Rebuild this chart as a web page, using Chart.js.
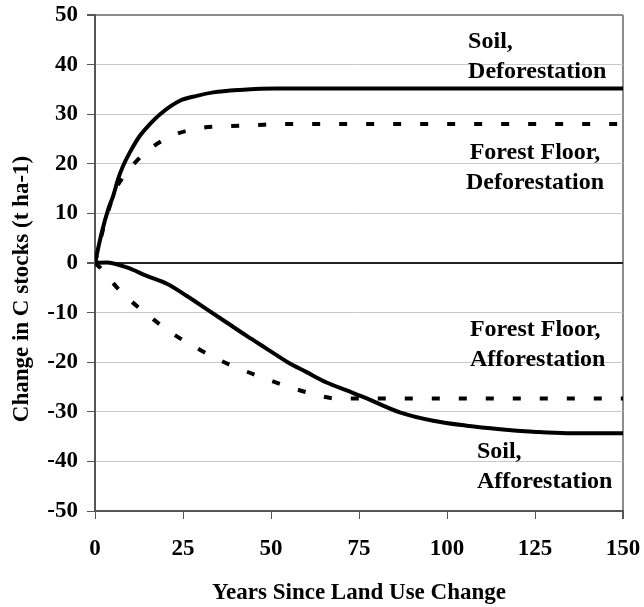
<!DOCTYPE html>
<html>
<head>
<meta charset="utf-8">
<script src="https://cdn.jsdelivr.net/npm/chart.js@4.4.1/dist/chart.umd.min.js"></script>
<style>
  html, body { margin: 0; padding: 0; background: #fff; }
  #wrap { width: 644px; height: 607px; position: relative; }
</style>
</head>
<body>
<div id="wrap"><canvas id="c" width="644" height="607"></canvas></div>
<script>
// ---- Data ----
const xTickValues = [0, 25, 50, 75, 100, 125, 150];
const yTickValues = [-50, -40, -30, -20, -10, 0, 10, 20, 30, 40, 50];

const soilDefYears = [0, 1.9, 3.8, 5.2, 6.6, 8, 9.9, 12.8, 15.6, 18.5, 24.1, 28.9, 33.6, 41.2, 51.6, 75, 100, 125, 150];
const soilDefVals  = [0, 6.1, 10.9, 13.6, 17, 19.6, 22.3, 25.7, 28, 30, 32.7, 33.7, 34.4, 34.9, 35.2, 35.2, 35.2, 35.2, 35.2];

const ffDefYears = [0, 2, 4, 6, 8, 14.2, 22.1, 30, 37.9, 45.5, 53.4, 75, 100, 125, 150];
const ffDefVals  = [0, 6, 11, 15, 17.3, 22.2, 25.7, 27.2, 27.6, 27.8, 28, 28, 28, 28, 28];

const ffAffYears = [0, 1.4, 7.1, 14.7, 22.2, 30.3, 37.9, 45.7, 53.5, 60.9, 68.6, 75, 100, 125, 150];
const ffAffVals  = [0, -0.9, -5.6, -10.3, -14.3, -17.7, -20.4, -22.6, -24.6, -26.2, -27.3, -27.3, -27.3, -27.3, -27.3];

const soilAffYears = [0, 3.3, 9, 14.7, 20.4, 26, 31.7, 37.4, 43.1, 48.8, 54.5, 60.1, 65.8, 71.5, 77.2, 86.6, 96.1, 105.6, 115.1, 124.5, 134, 150];
const soilAffVals  = [0, 0.1, -0.9, -2.6, -4.2, -6.6, -9.3, -12, -14.7, -17.3, -19.9, -22, -24.1, -25.7, -27.3, -30.1, -31.8, -32.8, -33.5, -34, -34.3, -34.3];

const xTitle = 'Years Since Land Use Change';
const yTitle = 'Change in C stocks (t ha-1)';

// annotation labels: [lines, x value, y value of first line, align]
const annotations = [
  { lines: ['Soil,', 'Deforestation'], x: 106, y: 44.5, align: 'left' },
  { lines: ['Forest Floor,', 'Deforestation'], x: 125, y: 22.3, align: 'center' },
  { lines: ['Forest Floor,', 'Afforestation'], x: 106.5, y: -13.5, align: 'left' },
  { lines: ['Soil,', 'Afforestation'], x: 108.5, y: -38, align: 'left' }
];

function pts(xs, ys) { return xs.map((x, i) => ({ x: x, y: ys[i] })); }

const FONT = '"Liberation Serif", "Times New Roman", serif';

const textPlugin = {
  id: 'texts',
  afterDraw(chart) {
    const ctx = chart.ctx;
    const xs = chart.scales.x, ys = chart.scales.y;
    ctx.save();
    ctx.fillStyle = '#000';
    ctx.font = 'bold 24px ' + FONT;
    ctx.textBaseline = 'middle';
    annotations.forEach(a => {
      ctx.textAlign = a.align;
      const px = xs.getPixelForValue(a.x);
      const py = ys.getPixelForValue(a.y);
      a.lines.forEach((ln, i) => ctx.fillText(ln, px, py + i * 30));
    });
    // y axis title
    ctx.font = 'bold 23px ' + FONT;
    ctx.translate(22, 289);
    ctx.rotate(-Math.PI / 2);
    ctx.textAlign = 'center';
    ctx.fillText(yTitle, 0, 0);
    ctx.restore();
  }
};

const lineBase = { borderColor: '#000', borderWidth: 4, cubicInterpolationMode: 'monotone', pointRadius: 0, fill: false };

new Chart(document.getElementById('c'), {
  type: 'line',
  data: {
    datasets: [
      Object.assign({ label: 'Soil, Deforestation', data: pts(soilDefYears, soilDefVals) }, lineBase),
      Object.assign({ label: 'Forest Floor, Deforestation', data: pts(ffDefYears, ffDefVals), borderDash: [8, 19], borderCapStyle: 'butt' }, lineBase),
      Object.assign({ label: 'Forest Floor, Afforestation', data: pts(ffAffYears, ffAffVals), borderDash: [8, 19], borderCapStyle: 'butt' }, lineBase),
      Object.assign({ label: 'Soil, Afforestation', data: pts(soilAffYears, soilAffVals) }, lineBase)
    ]
  },
  options: {
    responsive: false,
    animation: false,
    devicePixelRatio: 1,
    layout: { padding: { top: 15, right: 21, bottom: 0, left: 0 } },
    plugins: { legend: { display: false }, tooltip: { enabled: false } },
    scales: {
      x: {
        type: 'linear',
        min: 0, max: 150,
        afterFit(scale) { scale.height = 96; scale.paddingRight = 0; scale.paddingLeft = 0; },
        afterBuildTicks(scale) { scale.ticks = xTickValues.map(v => ({ value: v })); },
        ticks: { color: '#000', font: { family: FONT, size: 23, weight: 'bold' }, padding: 16, maxRotation: 0, autoSkip: false },
        grid: {
          color: ctx => (ctx.tick && ctx.tick.value === 150) ? '#8c8c8c' : 'rgba(0,0,0,0)',
          lineWidth: ctx => (ctx.tick && ctx.tick.value === 150) ? 2 : 1,
          tickColor: '#555', tickLength: 8, drawTicks: true
        },
        border: { display: true, color: '#555', width: 2 },
        title: { display: true, text: xTitle, color: '#000', font: { family: FONT, size: 23, weight: 'bold' }, padding: { top: 0, bottom: 0 } }
      },
      y: {
        type: 'linear',
        min: -50, max: 50,
        afterFit(scale) { scale.width = 95; scale.paddingTop = 0; scale.paddingBottom = 0; },
        afterBuildTicks(scale) { scale.ticks = yTickValues.map(v => ({ value: v })); },
        ticks: { color: '#000', font: { family: FONT, size: 23, weight: 'bold' }, padding: 9, autoSkip: false },
        grid: {
          color: ctx => {
            const v = ctx.tick && ctx.tick.value;
            if (v === 0) return '#222';
            if (v === 50) return '#8c8c8c';
            return '#c8c8c8';
          },
          lineWidth: ctx => {
            const v = ctx.tick && ctx.tick.value;
            return (v === 0 || v === 50) ? 2 : 1;
          },
          tickColor: '#555', tickLength: 8, drawTicks: true
        },
        border: { display: true, color: '#555', width: 2 }
      }
    }
  },
  plugins: [textPlugin]
});
</script>
</body>
</html>
